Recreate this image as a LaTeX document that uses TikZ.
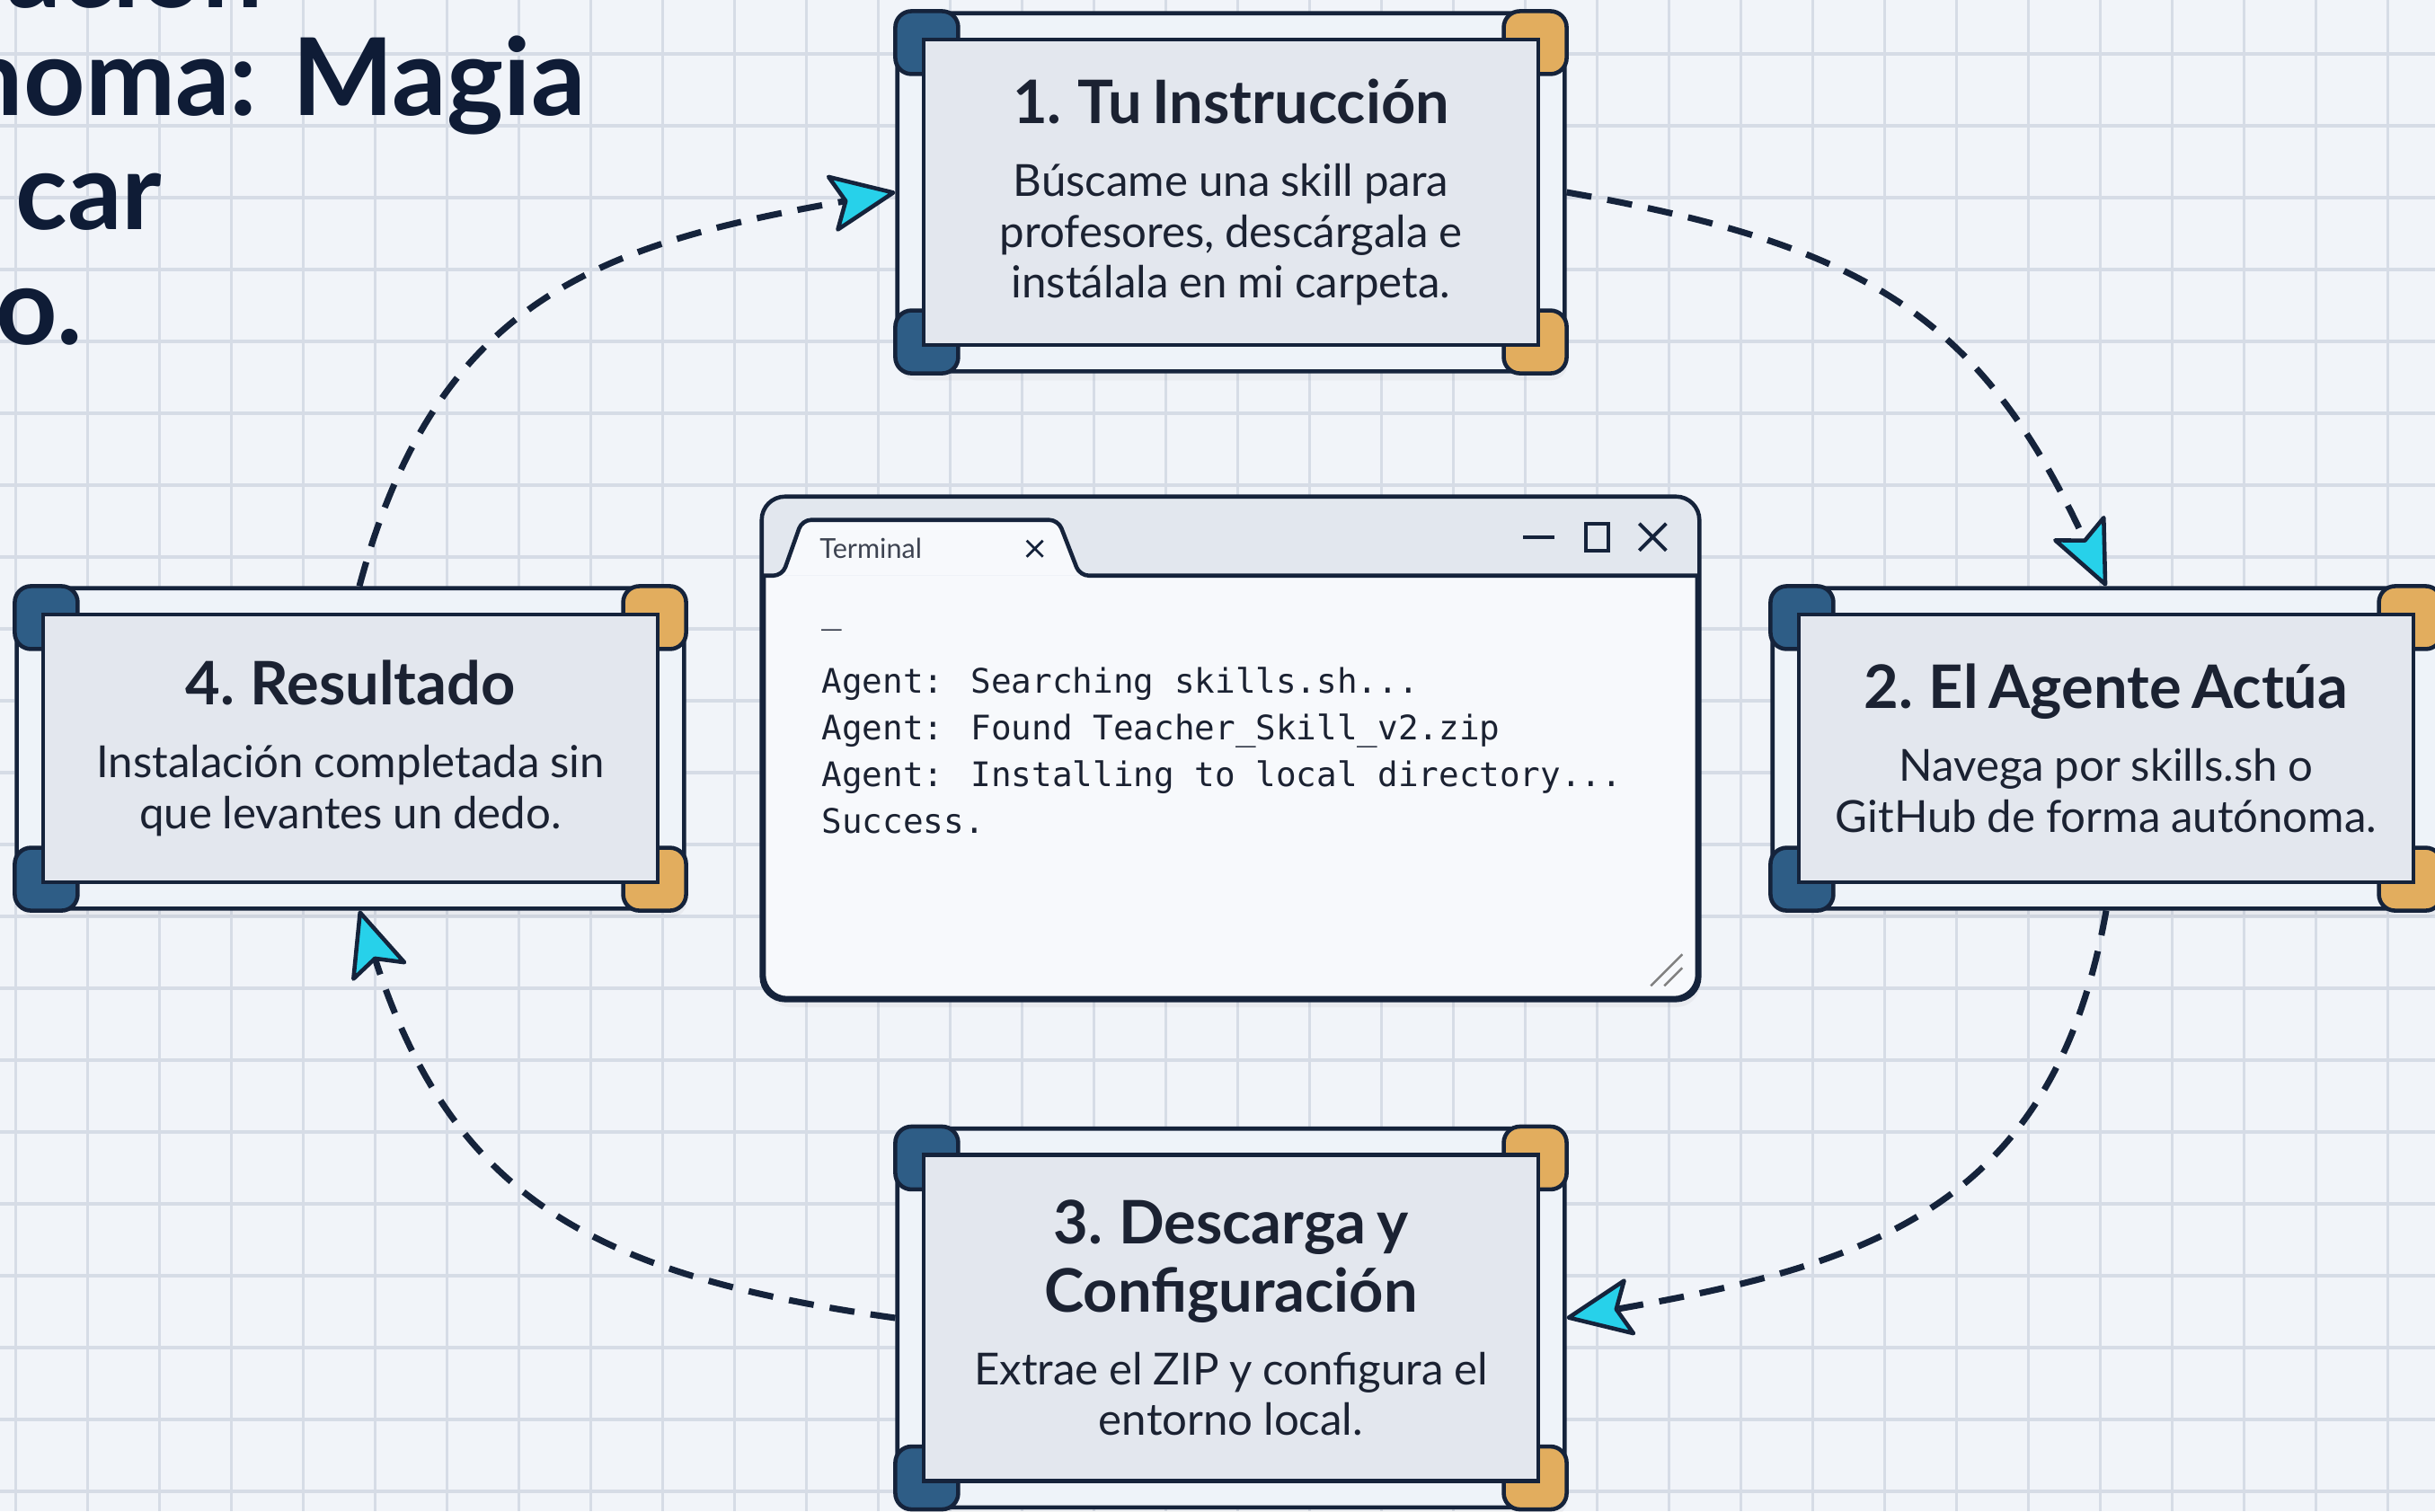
\documentclass[tikz,border=0pt]{standalone}
\usepackage{fontspec}
\setmainfont{Lato}
\newfontfamily\termfont{DejaVu Sans Mono}
\usetikzlibrary{arrows.meta,positioning,fit,backgrounds,shadows,calc}

\definecolor{paperbg}{HTML}{F1F4F9}
\definecolor{gridcol}{HTML}{D6DCE6}
\definecolor{ink}{HTML}{15233B}
\definecolor{panelfill}{HTML}{E3E7EE}
\definecolor{bandfill}{HTML}{EEF3F9}
\definecolor{cornerblue}{HTML}{2E5D86}
\definecolor{cornergold}{HTML}{E2AD5E}
\definecolor{tipcyan}{HTML}{27D1EA}
\definecolor{termbody}{HTML}{F7F9FC}
\definecolor{termbar}{HTML}{E2E7EE}
\definecolor{textdark}{HTML}{1B2232}
\definecolor{headnavy}{HTML}{0F1C36}

\pgfdeclarelayer{paper}
\pgfsetlayers{paper,background,main}

\newcommand{\cardtitle}{\fontsize{19}{21.5}\selectfont\bfseries}
\newcommand{\carddesc}{\fontsize{14}{16.2}\selectfont}
\newcommand{\cardtext}[2]{{\cardtitle #1\par}\vspace{0.24cm}{\carddesc #2\par}}

% corner brackets of a card frame
\newcommand{\cardcorners}[1]{%
  \foreach \a/\dx/\dy/\c in {north west/1/-1/cornerblue,south west/1/1/cornerblue,north east/-1/-1/cornergold,south east/-1/1/cornergold}
    \draw[cornerpiece, fill=\c] (#1.\a) rectangle ++(0.7*\dx,0.7*\dy);}

\begin{document}
\begin{tikzpicture}[
    panel/.style={rectangle, draw=ink, line width=1.3pt, fill=panelfill, minimum width=6.84cm, text width=6.4cm, align=center, text=textdark, inner sep=0pt},
    frame/.style={rectangle, draw=ink, line width=1.3pt, fill=bandfill, rounded corners=0.18cm, inner sep=0.27cm, drop shadow={opacity=0.08, shadow xshift=0.03cm, shadow yshift=-0.10cm}},
    cornerpiece/.style={draw=ink, line width=1.3pt, rounded corners=0.18cm},
    flow/.style={draw=ink, line width=2pt, dash pattern=on 0.28cm off 0.18cm, looseness=1.15, -{Stealth[length=0.78cm, width=0.68cm, inset=0.16cm, fill=tipcyan, line width=1.3pt, round]}},
    headline/.style={font=\fontsize{34}{40}\selectfont\bfseries, text=headnavy, inner sep=0pt},
    termwin/.style={rectangle, draw=ink, line width=1.3pt, rounded corners=0.26cm, fill=termbody, drop shadow={opacity=0.08, shadow xshift=0.03cm, shadow yshift=-0.10cm}},
    termline/.style={draw=ink, line width=1.3pt},
    termmono/.style={font=\termfont\fontsize{10.7}{14.8}\selectfont, text=textdark, inner sep=0pt, align=left},
    ctrl/.style={draw=ink, line width=1.1pt},
    gridline/.style={draw=gridcol, line width=0.9pt}
]
\useasboundingbox (0,0) rectangle (27.1,-16.82);

% Paper with grid
\begin{pgfonlayer}{paper}
\fill[paperbg] (0,0) rectangle (27.1,-16.82);
\foreach \x in {0,...,33} \draw[gridline] ({0.175+0.8*\x},0) -- ++(0,-16.82);
\foreach \y in {0,...,20} \draw[gridline] (0,{-0.6-0.8*\y}) -- ++(27.1,0);
\end{pgfonlayer}

% Title (cut at the left edge)
\node[headline, anchor=base east] (head1) at (2.93,-0.08) {ación};
\node[headline, anchor=base east] (head2) at (6.52,-1.28) {noma: Magia};
\node[headline, anchor=base east] (head3) at (1.81,-2.55) {car};
\node[headline, anchor=base east] (head4) at (0.93,-3.83) {o.};

% Cards
\node[panel, minimum height=3.40cm] (instr) at (13.70,-2.14)
    {\cardtext{1. Tu Instrucción}{Búscame una skill para\\profesores, descárgala e\\instálala en mi carpeta.}};
\node[panel, minimum height=2.98cm] (agent) at (23.44,-8.33)
    {\cardtext{2. El Agente Actúa}{Navega por skills.sh o\\GitHub de forma autónoma.}};
\node[panel, minimum height=3.63cm] (config) at (13.70,-14.67)
    {\cardtext{3. Descarga y\\Configuración}{Extrae el ZIP y configura el\\entorno local.}};
\node[panel, minimum height=2.98cm] (result) at (3.90,-8.33)
    {\cardtext{4. Resultado}{Instalación completada sin\\que levantes un dedo.}};

\begin{pgfonlayer}{background}
\foreach \n in {instr,agent,config,result} {
    \node[frame, fit=(\n)] (\n-f) {};
    \cardcorners{\n-f}
}
\end{pgfonlayer}

% Terminal window
\node[termwin, minimum width=10.39cm, minimum height=5.56cm] (term) at (13.695,-8.33) {};
\begin{scope}
\clip[rounded corners=0.26cm] (term.north west) rectangle (term.south east);
\fill[termbar] (term.north west) rectangle ([yshift=-0.88cm]term.north east);
\end{scope}
\draw[termline, fill=termbody, rounded corners=0.1cm] ([yshift=-0.88cm]term.north west) -- ++(0.23,0) -- ++(0.22,0.62) -- ++(2.85,0) -- ++(0.24,-0.62) -- ([yshift=-0.88cm]term.north east);
\draw[termline, rounded corners=0.26cm] (term.north west) rectangle (term.south east);
\node[font=\fontsize{8.7}{10}\selectfont, text=textdark!85, anchor=west, inner sep=0pt] (tablabel) at ([xshift=0.64cm,yshift=-0.58cm]term.north west) {Terminal};
\draw[ctrl, line width=0.8pt] ([xshift=2.95cm,yshift=-0.49cm]term.north west) -- ++(0.18,-0.18) ++(-0.18,0) -- ++(0.18,0.18);
\draw[ctrl] ([xshift=-1.96cm,yshift=-0.45cm]term.north east) -- ++(0.35,0);
\draw[ctrl] ([xshift=-1.26cm,yshift=-0.30cm]term.north east) rectangle ++(0.25,-0.30);
\draw[ctrl] ([xshift=-0.67cm,yshift=-0.30cm]term.north east) -- ++(0.30,-0.30) ++(-0.30,0) -- ++(0.30,0.30);
\draw[draw=gray, line width=0.7pt] ([xshift=-0.54cm,yshift=0.16cm]term.south east) -- ++(0.35,0.35);
\draw[draw=gray, line width=0.7pt] ([xshift=-0.39cm,yshift=0.16cm]term.south east) -- ++(0.2,0.2);

\node[termmono, anchor=base west] (cursor) at (9.14,-6.93) {\_};
\node[termmono, anchor=north west] (log) at (9.14,-7.42)
    {Agent: Searching skills.sh...\\Agent: Found Teacher\_Skill\_v2.zip\\Agent: Installing to local directory...\\Success.};

% Cycle connectors
\path[flow] (instr-f.east) to[out=-10, in=115] (agent-f.north);
\path[flow] (agent-f.south) to[out=-100, in=10] (config-f.east);
\path[flow] (config-f.west) to[out=172, in=-72] ([xshift=0.1cm]result-f.south);
\path[flow] ([xshift=0.1cm]result-f.north) to[out=75, in=190] (instr-f.west);

\end{tikzpicture}
\end{document}
